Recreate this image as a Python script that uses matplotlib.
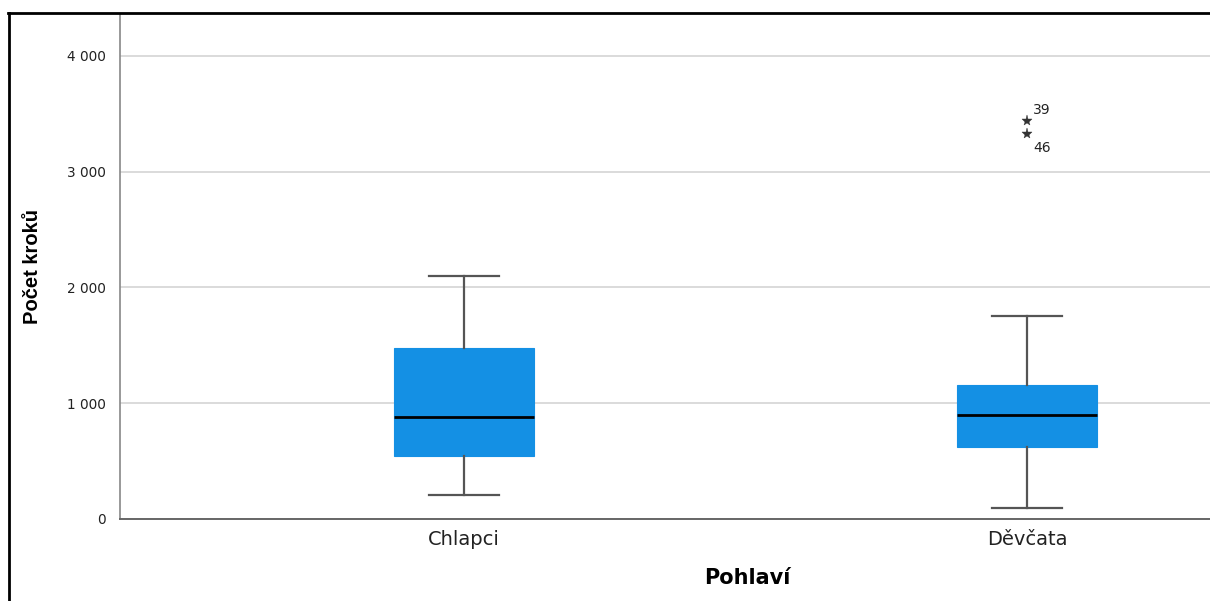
import matplotlib
matplotlib.use("Agg")
import matplotlib.pyplot as plt
from matplotlib.lines import Line2D

categories = ["Chlapci", "Děvčata"]
whisker_low = [207, 95]
q1 = [540, 620]
median = [885, 895]
q3 = [1480, 1155]
whisker_high = [2095, 1750]
outlier_values = [[], [3440, 3328]]
outlier_ids = [[], ["39", "46"]]
yticks = [0, 1000, 2000, 3000, 4000]
ytick_labels = ["0", "1 000", "2 000", "3 000", "4 000"]

W, H = 1210, 601
fig = plt.figure(figsize=(W / 100, H / 100), dpi=100)
fig.patch.set_facecolor("white")
ax = fig.add_axes([120 / W, 1 - 519 / H, 1 - 120 / W, (519 - 14) / H])

stats = []
for i, c in enumerate(categories):
    stats.append(dict(label=c, whislo=whisker_low[i], q1=q1[i], med=median[i],
                      q3=q3[i], whishi=whisker_high[i], fliers=[]))
positions = list(range(len(categories)))
ax.bxp(stats, positions=positions, widths=0.248, patch_artist=True,
       showfliers=False,
       boxprops=dict(facecolor="#1490E4", edgecolor="#1490E4", linewidth=0.8),
       medianprops=dict(color="black", linewidth=2),
       whiskerprops=dict(color="#555555", linewidth=1.6),
       capprops=dict(color="#555555", linewidth=1.6),
       capwidths=0.124, zorder=3)

for i, vals in enumerate(outlier_values):
    for v in vals:
        ax.plot(positions[i], v, marker="*", color="#333333",
                markersize=8, markeredgewidth=0.3, zorder=4)
    if len(vals) >= 2:
        ax.annotate(outlier_ids[i][0], (positions[i], vals[0]), xytext=(4.5, 5),
                    textcoords="offset points", fontsize=10,
                    family="DejaVu Sans", color="#222222", va="baseline")
        ax.annotate(outlier_ids[i][1], (positions[i], vals[1]), xytext=(4.5, -13),
                    textcoords="offset points", fontsize=10,
                    family="DejaVu Sans", color="#222222", va="baseline")

ax.set_xlim(-0.611, 1.325)
ax.set_ylim(0, 4362)
ax.set_yticks(yticks)
ax.set_yticklabels(ytick_labels)
ax.set_xticks(positions)
ax.set_xticklabels(categories)
ax.yaxis.grid(True, color="#d4d4d4", linewidth=1.2, zorder=0)
ax.set_axisbelow(True)
ax.tick_params(axis="y", length=0, pad=10, labelsize=9.8, labelcolor="#222222")
ax.tick_params(axis="x", length=0, pad=8, labelsize=14, labelcolor="#222222")
for t in ax.get_yticklabels() + ax.get_xticklabels():
    t.set_family("DejaVu Sans")
for s in ["top", "right"]:
    ax.spines[s].set_visible(False)
ax.spines["left"].set_color("#888888")
ax.spines["bottom"].set_color("#666666")
ax.spines["left"].set_linewidth(1.2)
ax.spines["bottom"].set_linewidth(1.4)

ax.set_xlabel("Pohlaví", fontsize=15, fontweight="bold",
              family="DejaVu Sans")
ax.xaxis.set_label_coords((747 - 120) / (W - 120), -(568 - 519) / (519 - 14))
ax.set_ylabel("Počet kroků", fontsize=14.5, fontweight="bold",
              family="Liberation Sans", labelpad=18)

# outer frame (left and top)
fig.add_artist(Line2D([8.5 / W, 8.5 / W], [0, 1 - 13 / H], transform=fig.transFigure,
                      color="black", linewidth=2))
fig.add_artist(Line2D([8 / W, 1], [1 - 13 / H, 1 - 13 / H], transform=fig.transFigure,
                      color="black", linewidth=2))

fig.savefig("out.png", dpi=100, facecolor="white")
